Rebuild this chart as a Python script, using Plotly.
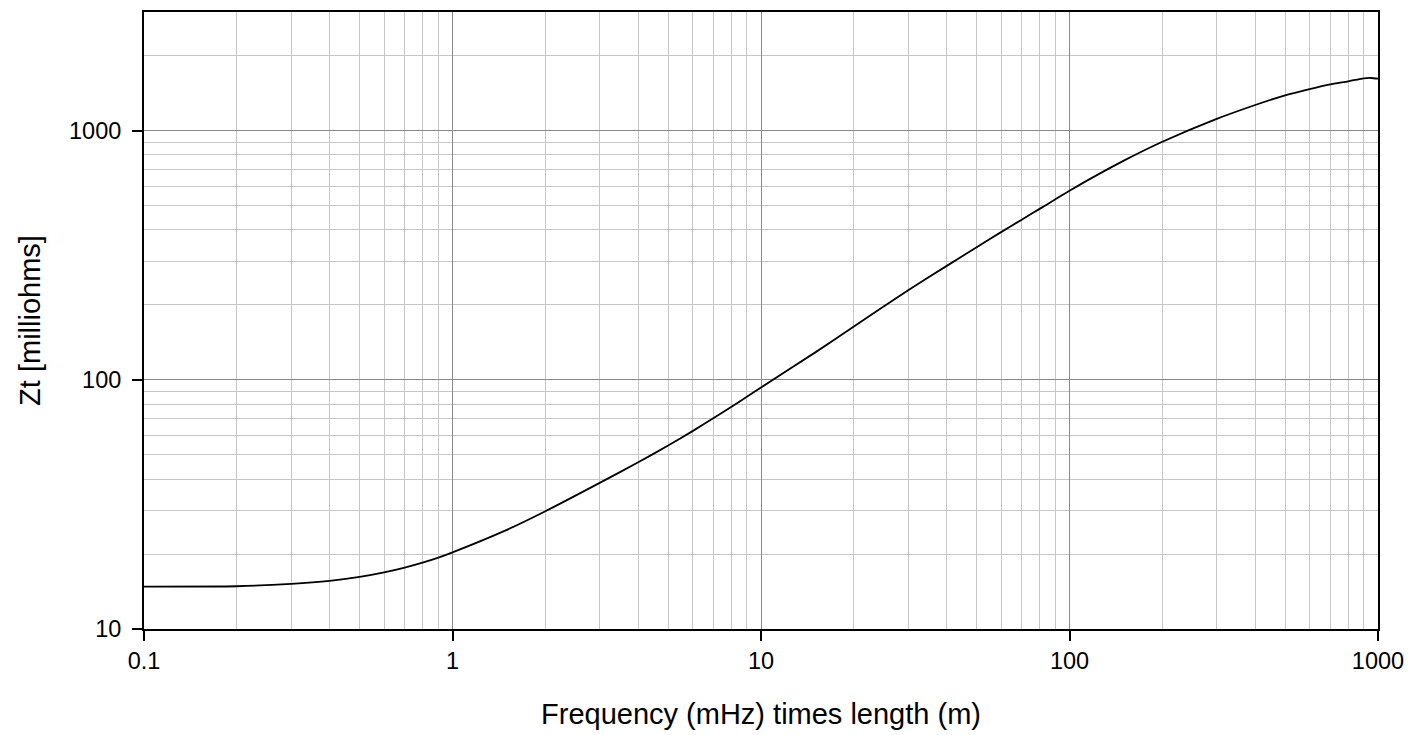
import plotly.graph_objects as go

# Data
freq_length = [0.1, 0.2, 0.3, 0.4, 0.5, 0.6, 0.7, 0.8, 0.9, 1.0, 1.5,
               2, 3, 4, 5, 6, 7, 8, 9, 10, 15,
               20, 30, 40, 50, 60, 70, 80, 90, 100,
               150, 200, 300, 400, 500, 600, 700, 800, 900, 950, 1000]
zt_milliohms = [14.8, 14.85, 15.18, 15.61, 16.18, 16.87, 17.64, 18.46, 19.33, 20.3, 25.0,
                29.7, 38.6, 46.7, 54.5, 62.3, 70.1, 77.8, 85.5, 93.2, 129,
                164, 229, 287, 341, 392, 440, 486, 531, 575,
                759, 904, 1117, 1270, 1389, 1472, 1538, 1581, 1625, 1630, 1619]

x_major = [0.1, 1, 10, 100, 1000]
x_major_text = ["0.1", "1", "10", "100", "1000"]
y_major = [10, 100, 1000]
y_major_text = ["10", "100", "1000"]

x_minor = [m * d for d in (0.1, 1, 10, 100) for m in range(2, 10)]
y_minor = [m * d for d in (10, 100, 1000) for m in range(2, 10) if m * d <= 3000]

FONT = "Liberation Sans, Arial, sans-serif"

fig = go.Figure()
fig.add_trace(go.Scatter(x=freq_length, y=zt_milliohms, mode="lines",
                         line=dict(color="black", width=1.8, shape="spline", smoothing=0.6),
                         showlegend=False, hoverinfo="x+y"))

axis_common = dict(
    showline=True, linecolor="black", linewidth=2, mirror=True,
    ticks="outside", ticklen=10, tickcolor="black", tickwidth=1.5,
    showgrid=True, gridcolor="#8a8a8a", gridwidth=1.3,
    zeroline=False,
    tickfont=dict(family=FONT, size=23.5, color="black"),
    title_font=dict(family=FONT, size=29, color="black"),
)

fig.update_xaxes(type="log", range=[-1, 3], tickmode="array",
                 tickvals=x_major, ticktext=x_major_text,
                 minor=dict(tickmode="array", tickvals=x_minor, showgrid=True,
                            gridcolor="#c6c6c6", gridwidth=1.3, ticks=""),
                 title_text="Frequency (mHz) times length (m)", title_standoff=30,
                 **axis_common)
fig.update_yaxes(type="log", range=[1, 3.4771], tickmode="array",
                 tickvals=y_major, ticktext=y_major_text,
                 ticklabelstandoff=6,
                 minor=dict(tickmode="array", tickvals=y_minor, showgrid=True,
                            gridcolor="#c6c6c6", gridwidth=1.3, ticks=""),
                 title_text="Zt [milliohms]", title_standoff=20,
                 **axis_common)

fig.update_layout(
    width=1414, height=735,
    margin=dict(l=144, r=30, t=10, b=105),
    plot_bgcolor="white", paper_bgcolor="white",
    font=dict(family=FONT, color="black"),
)

fig.write_html("out.html", config={"displayModeBar": False},
               post_script="document.body.style.margin='0';")
